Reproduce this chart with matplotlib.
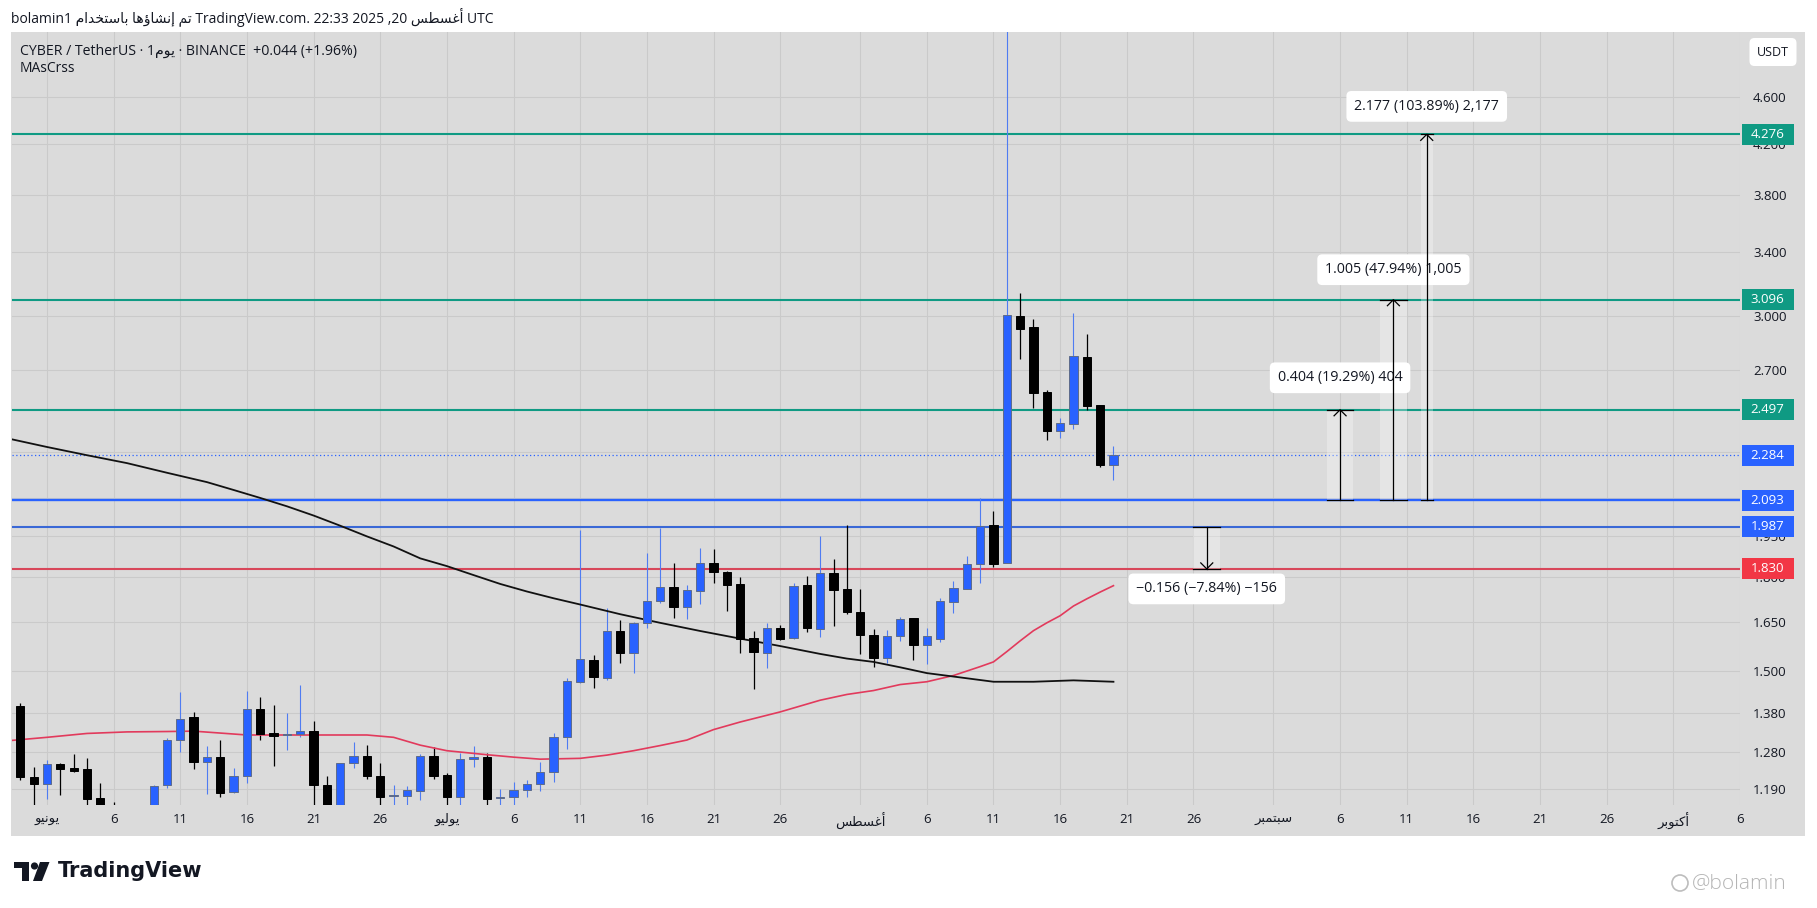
import numpy as np
import pandas as pd
import matplotlib
matplotlib.use('Agg')
import matplotlib.pyplot as plt
from matplotlib.patches import Rectangle, Circle, Polygon
from matplotlib.ticker import NullLocator

# ---------------- data ----------------
dates = pd.date_range('2025-05-29', '2025-08-20', freq='D')
opens = [1.398, 1.400, 1.219, 1.203, 1.250, 1.241, 1.239, 1.169, 1.152, 1.140, 1.125, 1.140,
         1.199, 1.311, 1.369, 1.256, 1.268, 1.183, 1.220, 1.391, 1.327, 1.323, 1.325, 1.333,
         1.200, 1.145, 1.252, 1.270, 1.221, 1.175, 1.175, 1.187, 1.270, 1.224, 1.173, 1.263,
         1.268, 1.170, 1.173, 1.188, 1.203, 1.230, 1.319, 1.468, 1.532, 1.479, 1.621, 1.552,
         1.646, 1.720, 1.765, 1.700, 1.751, 1.850, 1.820, 1.777, 1.599, 1.554, 1.630, 1.598,
         1.773, 1.626, 1.814, 1.758, 1.682, 1.609, 1.537, 1.604, 1.664, 1.576, 1.595, 1.716,
         1.760, 1.846, 1.994, 1.852, 2.999, 2.935, 2.585, 2.397, 2.429, 2.768, 2.519, 2.240]
highs = [1.470, 1.408, 1.244, 1.260, 1.252, 1.275, 1.266, 1.204, 1.160, 1.150, 1.148, 1.200,
         1.314, 1.440, 1.384, 1.295, 1.310, 1.240, 1.443, 1.424, 1.403, 1.382, 1.458, 1.359,
         1.220, 1.253, 1.304, 1.297, 1.252, 1.200, 1.198, 1.275, 1.293, 1.228, 1.277, 1.295,
         1.277, 1.190, 1.206, 1.212, 1.256, 1.329, 1.478, 1.975, 1.547, 1.694, 1.656, 1.651,
         1.889, 1.981, 1.853, 1.773, 1.905, 1.901, 1.824, 1.800, 1.621, 1.646, 1.640, 1.779,
         1.804, 1.952, 1.865, 1.995, 1.760, 1.627, 1.624, 1.667, 1.664, 1.632, 1.730, 1.787,
         1.877, 2.101, 2.050, 5.800, 3.139, 2.980, 2.595, 2.459, 3.018, 2.894, 2.521, 2.328]
lows = [1.390, 1.212, 1.150, 1.167, 1.177, 1.230, 1.150, 1.140, 1.125, 1.110, 1.105, 1.130,
        1.192, 1.281, 1.239, 1.179, 1.173, 1.181, 1.204, 1.309, 1.246, 1.285, 1.319, 1.140,
        1.130, 1.140, 1.240, 1.214, 1.150, 1.150, 1.152, 1.166, 1.214, 1.150, 1.150, 1.242,
        1.145, 1.150, 1.150, 1.171, 1.185, 1.208, 1.287, 1.463, 1.451, 1.472, 1.524, 1.493,
        1.630, 1.713, 1.664, 1.658, 1.709, 1.781, 1.684, 1.554, 1.446, 1.507, 1.593, 1.597,
        1.617, 1.601, 1.637, 1.675, 1.550, 1.512, 1.522, 1.591, 1.532, 1.520, 1.585, 1.680,
        1.759, 1.781, 1.836, 1.850, 2.757, 2.504, 2.354, 2.364, 2.405, 2.496, 2.234, 2.177]
closes = [1.465, 1.218, 1.203, 1.250, 1.239, 1.234, 1.168, 1.152, 1.140, 1.125, 1.140, 1.198,
          1.310, 1.366, 1.256, 1.267, 1.182, 1.221, 1.391, 1.325, 1.321, 1.325, 1.333, 1.199,
          1.145, 1.252, 1.270, 1.220, 1.173, 1.176, 1.188, 1.270, 1.221, 1.173, 1.262, 1.268,
          1.168, 1.171, 1.188, 1.202, 1.230, 1.317, 1.469, 1.534, 1.482, 1.621, 1.554, 1.646,
          1.719, 1.765, 1.700, 1.756, 1.850, 1.818, 1.773, 1.595, 1.557, 1.630, 1.595, 1.770,
          1.629, 1.814, 1.756, 1.682, 1.609, 1.538, 1.606, 1.660, 1.578, 1.604, 1.719, 1.762,
          1.848, 1.990, 1.848, 3.005, 2.924, 2.582, 2.396, 2.432, 2.773, 2.516, 2.242, 2.284]

# moving averages (days counted from 1 June 2025)
ma_fast_day = [-3, 0, 3, 6, 9, 11, 13, 15, 18, 21, 24, 26, 28, 30, 33, 35, 37, 40, 42, 44,
               46, 48, 50, 52, 55, 58, 60, 62, 64, 66, 68, 70, 71, 72, 73, 74, 75, 76, 77,
               78, 79, 80]
ma_fast_val = [1.308, 1.317, 1.327, 1.331, 1.332, 1.333, 1.328, 1.323, 1.323, 1.323, 1.323,
               1.317, 1.297, 1.283, 1.273, 1.267, 1.262, 1.264, 1.272, 1.283, 1.296, 1.310,
               1.337, 1.357, 1.384, 1.416, 1.432, 1.443, 1.460, 1.468, 1.486, 1.512, 1.526,
               1.557, 1.590, 1.622, 1.647, 1.670, 1.702, 1.726, 1.749, 1.771]
ma_slow_day = [-3, 0, 3, 6, 9, 12, 14, 16, 18, 20, 22, 24, 26, 28, 30, 32, 34, 36, 38, 40,
               43, 46, 49, 52, 55, 58, 60, 62, 64, 66, 68, 70, 71, 74, 77, 80]
ma_slow_val = [2.362, 2.322, 2.285, 2.250, 2.208, 2.168, 2.135, 2.102, 2.068, 2.031, 1.991,
               1.950, 1.912, 1.868, 1.840, 1.808, 1.777, 1.751, 1.728, 1.707, 1.675, 1.647,
               1.621, 1.597, 1.574, 1.550, 1.536, 1.526, 1.510, 1.493, 1.483, 1.473, 1.468,
               1.468, 1.472, 1.468]

level_prices = [4.276, 3.096, 2.497, 2.093, 1.987, 1.830]
level_kinds = ['target', 'target', 'target', 'entry', 'support', 'stop']
current_price = 2.284

price_ticks = [1.19, 1.28, 1.38, 1.50, 1.65, 1.80, 1.95, 2.10, 2.30, 2.50, 2.70,
               3.00, 3.40, 3.80, 4.20, 4.60]
tick_dates = pd.to_datetime(['2025-06-01', '2025-06-06', '2025-06-11', '2025-06-16', '2025-06-21',
                             '2025-06-26', '2025-07-01', '2025-07-06', '2025-07-11', '2025-07-16',
                             '2025-07-21', '2025-07-26', '2025-08-01', '2025-08-06', '2025-08-11',
                             '2025-08-16', '2025-08-21', '2025-08-26', '2025-09-01', '2025-09-06',
                             '2025-09-11', '2025-09-16', '2025-09-21', '2025-09-26', '2025-10-01',
                             '2025-10-06'])
month_names = {6: 'يونيو', 7: 'يوليو', 8: 'أغسطس', 9: 'سبتمبر', 10: 'أكتوبر'}

meas_day = [97, 101, 103.5, 87]
meas_from = [2.093, 2.093, 2.093, 1.987]
meas_to = [2.497, 3.096, 4.276, 1.830]
meas_text = ['0.404 (19.29%) 404', '1.005 (47.94%) 1,005', '2.177 (103.89%) 2,177',
             '\u22120.156 (\u22127.84%) \u2212156']

# ---------------- Arabic shaping helper (visual order) ----------------
AR = {
    'ا': ('\uFE8D', '\uFE8E', None, None), 'أ': ('\uFE83', '\uFE84', None, None),
    'إ': ('\uFE87', '\uFE88', None, None), 'ؤ': ('\uFE85', '\uFE86', None, None),
    'ب': ('\uFE8F', '\uFE90', '\uFE91', '\uFE92'), 'ت': ('\uFE95', '\uFE96', '\uFE97', '\uFE98'),
    'خ': ('\uFEA5', '\uFEA6', '\uFEA7', '\uFEA8'), 'د': ('\uFEA9', '\uFEAA', None, None),
    'ر': ('\uFEAD', '\uFEAE', None, None), 'س': ('\uFEB1', '\uFEB2', '\uFEB3', '\uFEB4'),
    'ش': ('\uFEB5', '\uFEB6', '\uFEB7', '\uFEB8'), 'ط': ('\uFEC1', '\uFEC2', '\uFEC3', '\uFEC4'),
    'غ': ('\uFECD', '\uFECE', '\uFECF', '\uFED0'), 'ك': ('\uFED9', '\uFEDA', '\uFEDB', '\uFEDC'),
    'ل': ('\uFEDD', '\uFEDE', '\uFEDF', '\uFEE0'), 'م': ('\uFEE1', '\uFEE2', '\uFEE3', '\uFEE4'),
    'ن': ('\uFEE5', '\uFEE6', '\uFEE7', '\uFEE8'), 'ه': ('\uFEE9', '\uFEEA', '\uFEEB', '\uFEEC'),
    'و': ('\uFEED', '\uFEEE', None, None), 'ي': ('\uFEF1', '\uFEF2', '\uFEF3', '\uFEF4'),
}


def ar(s):
    out = []
    for i, ch in enumerate(s):
        f = AR.get(ch)
        if f is None:
            out.append(ch)
            continue
        prev = s[i - 1] if i > 0 else None
        nxt = s[i + 1] if i < len(s) - 1 else None
        jp = prev in AR and AR[prev][2] is not None
        jn = f[2] is not None and nxt in AR
        out.append(f[3] if (jp and jn) else f[1] if jp else f[2] if jn else f[0])
    return ''.join(reversed(out))


# ---------------- style ----------------
plt.rcParams['font.family'] = ['Open Sans', 'DejaVu Sans']
W, H = 1817, 908
BG = '#dbdbdb'
GRID = '#cacaca'
TXT = '#131722'
BLUE = '#2962ff'
BLUE_EDGE = '#5d6b8a'
WICK_UP = '#4f7cf2'
TEAL = '#0f9a83'
line_style = {'target': (TEAL, 1.5, TEAL), 'entry': ('#2962ff', 1.7, '#2962ff'),
              'support': ('#3a68d6', 1.5, '#2962ff'), 'stop': ('#d8475a', 1.5, '#f23645')}

fig = plt.figure(figsize=(W / 100, H / 100), dpi=100)
fig.patch.set_facecolor('white')

# pixel overlay for background and decorations
bg = fig.add_axes([0, 0, 1, 1], zorder=0)
bg.set_xlim(0, W)
bg.set_ylim(H, 0)
bg.axis('off')
bg.add_patch(Rectangle((11, 32), 1805 - 11, 836 - 32, fc=BG, ec='none'))

# pane geometry
PL, PR, PT, PB = 12, 1740, 32, 805
ax = fig.add_axes([PL / W, 1 - PB / H, (PR - PL) / W, (PB - PT) / H], zorder=2)
ax.set_facecolor('none')
ax.set_yscale('log')
ymin, ymax = 1.15392, 5.2226
ref = pd.Timestamp('2025-06-01')
xmin, xmax = -2.625, 127.0
ax.set_ylim(ymin, ymax)
ax.set_xlim(xmin, xmax)
for s in ax.spines.values():
    s.set_visible(False)

k = (PB - PT) / np.log(ymax / ymin)      # pixels per ln unit
ppd = (PR - PL) / (xmax - xmin)            # pixels per day

# ticks / grid
tick_x = (tick_dates - ref).days
tick_lab = [ar(month_names[d.month]) if d.day == 1 else str(d.day) for d in tick_dates]
ax.set_xticks(tick_x, tick_lab)
ax.yaxis.tick_right()
ax.set_yticks(price_ticks, ['%.3f' % p for p in price_ticks])
ax.yaxis.set_minor_locator(NullLocator())
ax.tick_params(axis='x', length=0, pad=6, labelsize=9.5, colors=TXT)
ax.tick_params(axis='y', length=0, pad=9.4, labelsize=9.5, colors=TXT)
ax.grid(True, color=GRID, lw=0.8)
ax.set_axisbelow(True)

# candles
x = np.asarray((dates - ref).days, dtype=float)
o, h, l, c = map(np.asarray, (opens, highs, lows, closes))
up = c >= o
ax.vlines(x[up], l[up], h[up], color=WICK_UP, lw=0.8, zorder=3)
ax.vlines(x[~up], l[~up], h[~up], color='black', lw=0.9, zorder=3)
ax.bar(x[up], np.maximum(c - o, 0.001)[up], bottom=o[up], width=0.62, color=BLUE,
       edgecolor=BLUE_EDGE, lw=0.7, zorder=4)
ax.bar(x[~up], (o - c)[~up], bottom=c[~up], width=0.62, color='black',
       edgecolor='black', lw=0.7, zorder=4)

# moving averages
ax.plot(ma_fast_day, ma_fast_val, color='#e23a5c', lw=1.2, zorder=3.5)
ax.plot(ma_slow_day, ma_slow_val, color='#111111', lw=1.3, zorder=3.5)

# horizontal levels
for p, kind in zip(level_prices, level_kinds):
    col, lw, _ = line_style[kind]
    ax.axhline(p, color=col, lw=lw, zorder=2.5)
ax.axhline(current_price, color=BLUE, lw=0.9, ls=(0, (1, 2)), zorder=2.5)

# measurement tools
dx = 6 / ppd
for d, p0, p1, txt in zip(meas_day, meas_from, meas_to, meas_text):
    hw = 0.45 if abs(d - round(d)) > 0.1 else 1.0
    s = 1 if p1 > p0 else -1
    ax.add_patch(Rectangle((d - hw, min(p0, p1)), 2 * hw, abs(p1 - p0), fc='white',
                           alpha=0.3, ec='none', zorder=5))
    ax.plot([d, d], [p0, p1], color='black', lw=0.9, zorder=7)
    ax.plot([d - hw, d + hw], [p0, p0], color='black', lw=0.9, zorder=7)
    ax.plot([d - hw, d + hw], [p1, p1], color='black', lw=0.9, zorder=7)
    yb = p1 * np.exp(-s * 6 / k)
    ax.plot([d - dx, d, d + dx], [yb, p1, yb], color='black', lw=0.9, zorder=7)
    if s < 0:
        off = -20
    elif p1 < 2.6:
        off = 32
    elif p1 < 3.5:
        off = 30
    else:
        off = 28
    ax.annotate(txt, xy=(d, p1), xytext=(0, off), textcoords='offset pixels',
                ha='center', va='center', fontsize=10.3, color=TXT, zorder=6,
                bbox=dict(boxstyle='round,pad=0.55,rounding_size=0.35', fc='white', ec='none'))

# price axis with tags
ax2 = fig.add_axes([PR / W, 1 - PB / H, 65 / W, (PB - PT) / H], zorder=3)
ax2.set_facecolor('none')
ax2.set_yscale('log')
ax2.set_ylim(ymin, ymax)
ax2.set_xlim(0, 65)
ax2.axis('off')
hh = 10.5 / k
tags = [(p, line_style[kd][2]) for p, kd in zip(level_prices, level_kinds)] + [(current_price, BLUE)]
for p, col in tags:
    ax2.add_patch(Rectangle((1.5, p * np.exp(-hh)), 52.5, p * (np.exp(hh) - np.exp(-hh)),
                            fc=col, ec='none'))
    ax2.text(27.5, p, '%.3f' % p, ha='center', va='center', color='white', fontsize=9.5)

# top overlay for texts drawn over the pane
top = fig.add_axes([0, 0, 1, 1], zorder=5)
top.set_facecolor('none')
top.set_xlim(0, W)
top.set_ylim(H, 0)
top.axis('off')

top.text(1773, 52, 'USDT', ha='center', va='center', fontsize=9, color=TXT,
         bbox=dict(boxstyle='round,pad=0.6,rounding_size=0.4', fc='white', ec='none'))

# header texts
bg.text(11, 17, 'bolamin1 ' + ar('تم إنشاؤها باستخدام') + ' TradingView.com. 22:33 2025 ,20 '
        + ar('أغسطس') + ' UTC', ha='left', va='center', fontsize=10, color=TXT)
top.text(20, 51, 'CYBER / TetherUS · 1' + ar('يوم') + ' · BINANCE  +0.044 (+1.96%)',
         ha='left', va='center', fontsize=10.2, color=TXT)
top.text(20, 69, 'MAsCrss', ha='left', va='center', fontsize=10, color=TXT)

# TradingView logo
bg.add_patch(Rectangle((14, 862), 15, 6, fc='#131722', ec='none'))
bg.add_patch(Rectangle((22, 862), 7, 19, fc='#131722', ec='none'))
bg.add_patch(Circle((34.5, 866), 3.6, fc='#131722', ec='none'))
bg.add_patch(Polygon([(40, 862), (49.5, 862), (42, 881), (33, 881)], closed=True,
                     fc='#131722', ec='none'))
bg.text(58, 871, 'TradingView', ha='left', va='center', fontsize=15, fontweight='bold',
        color='#131722', family='DejaVu Sans')

# watermark
bg.add_patch(Circle((1680, 883), 8, fc='none', ec='#bdbdbd', lw=1.2))
bg.text(1692, 883, '@bolamin', ha='left', va='center', fontsize=15, color='#b5b5b5',
        fontweight='light')

fig.savefig('out.png', dpi=100)
